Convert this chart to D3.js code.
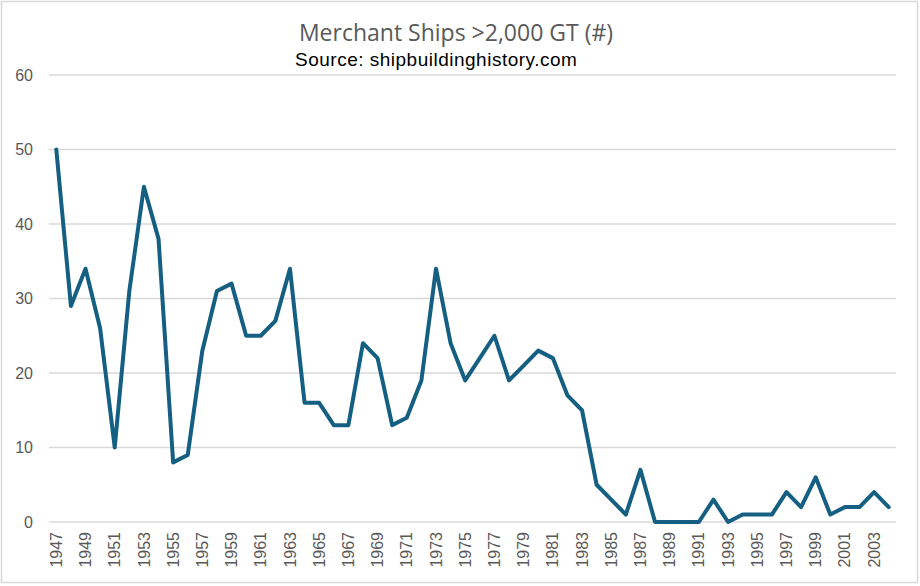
<!DOCTYPE html>
<head>
    <meta charset="utf-8">
    <title>Merchant Ships</title>
    <style>
        body { margin: 0; background: #fff; }
    </style>
</head>

<body>

<svg width="920" height="586"></svg>

<script src="https://cdn.jsdelivr.net/npm/d3@7/dist/d3.min.js"></script>

<script>
    const years = d3.range(1947, 2005);
    const ships = [50, 29, 34, 26, 10, 31, 45, 38, 8, 9,
                   23, 31, 32, 25, 25, 27, 34, 16, 16, 13,
                   13, 24, 22, 13, 14, 19, 34, 24, 19, 22,
                   25, 19, 21, 23, 22, 17, 15, 5, 3, 1,
                   7, 0, 0, 0, 0, 3, 0, 1, 1, 1,
                   4, 2, 6, 1, 2, 2, 4, 2];
    const yTicks = [0, 10, 20, 30, 40, 50, 60];
    const xLabels = years.filter((d, i) => i % 2 === 0);

    const data = years.map((y, i) => ({ year: y, value: ships[i] }));

    const svg = d3.select("svg");

    // chart frame
    svg.append("rect")
        .attr("x", 1.5).attr("y", 1.5)
        .attr("width", 916).attr("height", 581)
        .attr("fill", "#fff")
        .attr("stroke", "#d9d9d9")
        .attr("stroke-width", 1.5);

    const x = d3.scalePoint().domain(years).range([49, 896]).padding(0.5);
    const y = d3.scaleLinear().domain([0, 60]).range([522, 75]);

    // gridlines
    svg.append("g")
        .selectAll("line")
        .data(yTicks)
        .enter().append("line")
        .attr("x1", 49).attr("x2", 896)
        .attr("y1", d => y(d)).attr("y2", d => y(d))
        .attr("stroke", "#d9d9d9")
        .attr("stroke-width", 1.3);

    // y labels
    svg.append("g")
        .selectAll("text")
        .data(yTicks)
        .enter().append("text")
        .attr("x", 33)
        .attr("y", d => y(d))
        .attr("dy", "0.35em")
        .attr("text-anchor", "end")
        .style("font", "16px 'Liberation Sans', Arial, sans-serif")
        .style("fill", "#595959")
        .text(d => d);

    // x labels, every other year
    svg.append("g")
        .selectAll("text")
        .data(xLabels)
        .enter().append("text")
        .attr("transform", d => `translate(${x(d)},532) rotate(-90)`)
        .attr("dy", "0.35em")
        .attr("text-anchor", "end")
        .style("font", "16px 'Liberation Sans', Arial, sans-serif")
        .style("fill", "#595959")
        .text(d => d);

    const line = d3.line()
        .x(d => x(d.year))
        .y(d => y(d.value));

    svg.append("path")
        .datum(data)
        .attr("d", line)
        .attr("fill", "none")
        .attr("stroke", "#156082")
        .attr("stroke-width", 4)
        .attr("stroke-linejoin", "round")
        .attr("stroke-linecap", "round");

    svg.append("text")
        .attr("x", 456).attr("y", 41)
        .attr("text-anchor", "middle")
        .style("font", "23px 'Open Sans', sans-serif")
        .style("fill", "#595959")
        .text("Merchant Ships >2,000 GT (#)");

    svg.append("text")
        .attr("x", 295).attr("y", 65.5)
        .style("font", "19px 'Liberation Sans', Arial, sans-serif")
        .style("letter-spacing", "0.5px")
        .style("fill", "#000")
        .text("Source: shipbuildinghistory.com");
</script>

</body>
